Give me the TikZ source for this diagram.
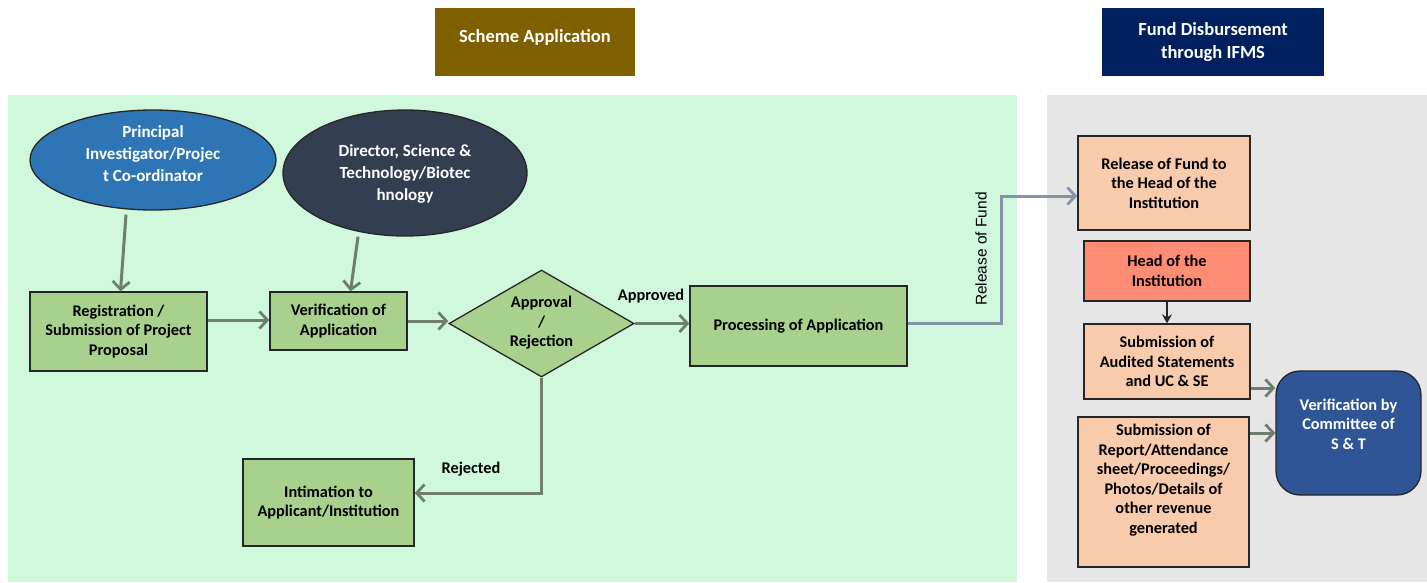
\documentclass[tikz,border=0pt]{standalone}
\usepackage{fontspec}
\setmainfont{Carlito}
\setsansfont{Liberation Sans}
\usetikzlibrary{shapes.geometric,arrows.meta}
\definecolor{panelgreen}{HTML}{D0F8DC}
\definecolor{panelgray}{HTML}{E6E6E6}
\definecolor{boxgreen}{HTML}{A9D18E}
\definecolor{boxpeach}{HTML}{F8CBAD}
\definecolor{boxsalmon}{HTML}{FF8C74}
\definecolor{olivehead}{HTML}{7F6000}
\definecolor{navyhead}{HTML}{002060}
\definecolor{ellblue}{HTML}{2E75B6}
\definecolor{elldark}{HTML}{333F50}
\definecolor{rndblue}{HTML}{2F5597}
\definecolor{arrgray}{HTML}{6E7F70}
\definecolor{arrblue}{HTML}{8494A6}
\definecolor{edge}{HTML}{262626}
\tikzset{
  headbox/.style={draw=none, text=white, font=\fontsize{18.5}{23}\selectfont\bfseries, align=center, inner sep=0pt},
  gbox/.style={draw=edge, line width=1.3pt, fill=boxgreen, font=\fontsize{16.3}{19.5}\selectfont\bfseries, align=center, inner sep=0pt},
  pbox/.style={draw=edge, line width=1.3pt, fill=boxpeach, font=\fontsize{16.3}{19.5}\selectfont\bfseries, align=center, inner sep=0pt},
  ell/.style={ellipse, draw=edge, line width=1.3pt, inner sep=0pt},
  elltxt/.style={text=white, font=\fontsize{17}{22}\selectfont\bfseries, align=center, inner sep=0pt},
  txt/.style={font=\fontsize{16.3}{19.5}\selectfont\bfseries, align=center, inner sep=0pt},
  conn/.style={draw=arrgray, line width=3pt, -{Straight Barb[length=8pt,width=17pt,line width=2.8pt]}},
  conn2/.style={draw=arrblue, line width=3pt, -{Straight Barb[length=8pt,width=17pt,line width=2.8pt]}},
  darkconn/.style={draw=edge, line width=2pt, -{Stealth[length=9pt,width=10pt]}}
}
\begin{document}
\begin{tikzpicture}[x=1pt,y=-1pt]
\useasboundingbox (0,0) rectangle (1427,582);
\fill[white] (0,0) rectangle (1427,582);
% panels
\fill[panelgreen] (8,95) rectangle (1017,582);
\fill[panelgray] (1047,95) rectangle (1427,582);
% headers
\node[headbox, fill=olivehead, minimum width=200pt, minimum height=68pt] (hscheme) at (535,42) {};
\node[headbox] (hschemetxt) at (535,37) {Scheme Application};
\node[headbox, fill=navyhead, minimum width=222pt, minimum height=68pt] (hfund) at (1213,42) {Fund Disbursement\\through IFMS};
% ellipses
\node[ell, fill=ellblue, minimum width=246pt, minimum height=100pt] (pi) at (153,160) {};
\node[elltxt] (pitxt) at (153,154) {Principal\\Investigator/Projec\\t Co-ordinator};
\node[ell, fill=elldark, minimum width=244pt, minimum height=126pt] (dir) at (405,173) {};
\node[elltxt] (dirtxt) at (405,174) {Director, Science \&\\Technology/Biotec\\hnology};
% boxes
\node[gbox, minimum width=177pt, minimum height=79pt] (reg) at (118.5,331.5) {Registration /\\Submission of Project\\Proposal};
\node[gbox, minimum width=137pt, minimum height=58pt] (ver) at (338.5,321) {Verification of\\Application};
\node[diamond, draw=edge, line width=1.3pt, fill=boxgreen, minimum width=185pt, minimum height=107pt, inner sep=0pt] (dec) at (541.5,323.5) {};
\node[txt] (dectxt) at (541.5,323) {Approval\\/\\Rejection};
\node[gbox, minimum width=217pt, minimum height=80pt] (proc) at (798.5,326) {Processing of Application};
\node[gbox, minimum width=171pt, minimum height=87pt] (intim) at (328.5,502.5) {Intimation to\\Applicant/Institution};
% right side
\node[pbox, minimum width=172pt, minimum height=94pt] (rel) at (1164,183) {Release of Fund to\\the Head of the\\Institution};
\node[pbox, fill=boxsalmon, minimum width=166pt, minimum height=60pt] (head) at (1167,271) {Head of the\\Institution};
\node[pbox, minimum width=166pt, minimum height=75pt] (aud) at (1167,361.5) {Submission of\\Audited Statements\\and UC \& SE};
\node[pbox, minimum width=171pt, minimum height=150pt] (rep) at (1163.5,492) {};
\node[txt] (reptxt) at (1163.5,480) {Submission of\\Report/Attendance\\sheet/Proceedings/\\Photos/Details of\\other revenue\\generated};
\node[draw=edge, line width=1.3pt, fill=rndblue, rounded corners=24pt, minimum width=145pt, minimum height=124pt, inner sep=0pt] (vc) at (1348.5,433) {};
\node[txt, text=white] (vctxt) at (1348.5,424) {Verification by\\Committee of\\S \& T};
% connectors
\draw[conn] ([xshift=-27pt,yshift=-4pt]pi.south) -- ([xshift=2pt]reg.north);
\draw[conn] ([xshift=-47pt]dir.south) -- ([xshift=12pt]ver.north);
\draw[conn] (reg.east |- 0,320) -- (ver.west |- 0,320);
\draw[conn] (ver.east) -- (dec.west |- ver.east);
\draw[conn] (dec.east) -- (proc.west |- dec.east);
\node[txt, anchor=south] (lapp) at (651,303) {Approved};
\coordinate (rejc) at (541.5,493);
\draw[conn] (dec.south) -- (rejc) -- (intim.east |- rejc);
\node[txt, anchor=south] (lrej) at (471,476) {Rejected};
\coordinate (relc1) at (1001,323);
\coordinate (relc2) at (1001,196);
\draw[conn2] (proc.east |- relc1) -- (relc1) -- (relc2) -- (rel.west |- relc2);
\node[font=\sffamily\fontsize{15.5}{18}\selectfont, rotate=90, inner sep=0pt] (lrel) at (981,249) {Release of Fund};
\draw[darkconn] (head.south) -- (aud.north);
\draw[conn] (aud.east |- 0,388) -- (vc.west |- 0,388);
\draw[conn] (rep.east |- 0,433) -- (vc.west |- 0,433);
\end{tikzpicture}
\end{document}
